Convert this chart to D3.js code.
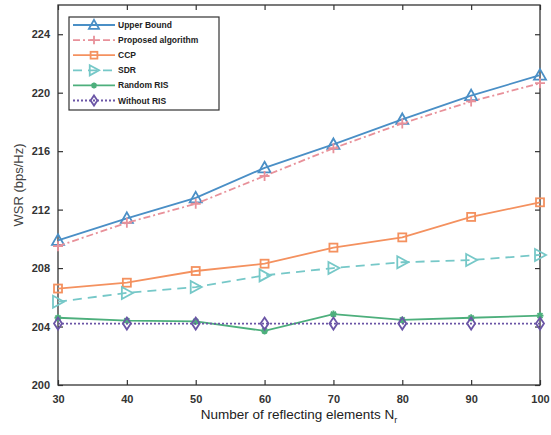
<!DOCTYPE html>
<html>
<head>
<meta charset="utf-8">
<script src="https://cdn.jsdelivr.net/npm/d3@7"></script>
<style>
  body { margin: 0; background: #fff; }
  text { font-family: "Liberation Sans", Arial, sans-serif; }
</style>
</head>
<body>
<div id="chart"></div>
<script>
// data
const elements = [30, 40, 50, 60, 70, 80, 90, 100];
const upperBound = [209.9, 211.4, 212.8, 214.86, 216.46, 218.17, 219.8, 221.2];
const proposed = [209.5, 211.1, 212.4, 214.3, 216.2, 217.9, 219.4, 220.65];
const ccp = [206.6, 207.0, 207.8, 208.3, 209.4, 210.1, 211.5, 212.5];
const sdr = [205.7, 206.3, 206.7, 207.5, 208.0, 208.4, 208.55, 208.9];
const randomRis = [204.6, 204.4, 204.35, 203.7, 204.85, 204.45, 204.6, 204.75];
const withoutRis = [204.2, 204.2, 204.2, 204.2, 204.2, 204.2, 204.2, 204.2];
const yTicks = [200, 204, 208, 212, 216, 220, 224];
const xTicks = [30, 40, 50, 60, 70, 80, 90, 100];

const series = [
  { name: "Upper Bound", values: upperBound, color: "#4a8fc6", dash: null, marker: "triangle" },
  { name: "Proposed algorithm", values: proposed, color: "#e8919a", dash: "7,3,2,3", marker: "plus" },
  { name: "CCP", values: ccp, color: "#f4915f", dash: null, marker: "square" },
  { name: "SDR", values: sdr, color: "#76c8c8", dash: "9,6", marker: "right" },
  { name: "Random RIS", values: randomRis, color: "#4daf7c", dash: null, marker: "star" },
  { name: "Without RIS", values: withoutRis, color: "#6b55a6", dash: "2,2", marker: "diamond" },
];

const margin = { top: 5, right: 11, bottom: 50, left: 58 };
const width = 551 - margin.left - margin.right;
const height = 435 - margin.top - margin.bottom;

const svg = d3.select("#chart").append("svg")
  .attr("width", 551).attr("height", 435)
  .append("g")
  .attr("transform", "translate(" + margin.left + "," + margin.top + ")");

const x = d3.scaleLinear().domain([30, 100]).range([0, width]);
const y = d3.scaleLinear().domain([200, 226]).range([height, 0]);

// axes, ticks pointing inward on all four sides
const tickCol = "#333";
svg.append("g").attr("transform", `translate(0,${height})`)
  .call(d3.axisBottom(x).tickValues(xTicks).tickSizeInner(-5).tickSizeOuter(0).tickPadding(10));
svg.append("g")
  .call(d3.axisLeft(y).tickValues(yTicks).tickSizeInner(-5).tickSizeOuter(0).tickPadding(8));
svg.append("g")
  .call(d3.axisTop(x).tickValues(xTicks).tickSizeInner(-5).tickSizeOuter(0).tickFormat(""));
svg.append("g").attr("transform", `translate(${width},0)`)
  .call(d3.axisRight(y).tickValues(yTicks).tickSizeInner(-5).tickSizeOuter(0).tickFormat(""));
svg.selectAll(".domain").remove();
svg.selectAll(".tick line").attr("stroke", tickCol).attr("stroke-width", 1.2);
svg.selectAll(".tick text")
  .attr("fill", "#333").style("font-size", "11px").style("font-weight", "bold")
  .style("font-family", "'Liberation Sans Narrow', 'Liberation Sans', sans-serif");

svg.append("rect").attr("width", width).attr("height", height)
  .attr("fill", "none").attr("stroke", "#333").attr("stroke-width", 1.3);

function drawMarker(g, type, color, k) {
  k = k || 1;
  const sw = 1.8;
  if (type === "triangle") {
    g.append("path").attr("d", `M0,${-6 * k}L${6 * k},${4.5 * k}L${-6 * k},${4.5 * k}Z`)
      .attr("fill", "none").attr("stroke", color).attr("stroke-width", sw);
  } else if (type === "plus") {
    g.append("path").attr("d", `M${-5 * k},0H${5 * k}M0,${-5 * k}V${5 * k}`)
      .attr("stroke", color).attr("stroke-width", sw);
  } else if (type === "square") {
    g.append("rect").attr("x", -4 * k).attr("y", -4 * k).attr("width", 8 * k).attr("height", 8 * k)
      .attr("fill", "none").attr("stroke", color).attr("stroke-width", sw);
  } else if (type === "right") {
    g.append("path").attr("d", `M${-5 * k},${-6 * k}L${6 * k},0L${-5 * k},${6 * k}Z`)
      .attr("fill", "none").attr("stroke", color).attr("stroke-width", sw);
  } else if (type === "star") {
    const r = 3.5 * k, d = 2.5 * k;
    g.append("path").attr("d", `M${-r},0H${r}M0,${-r}V${r}M${-d},${-d}L${d},${d}M${-d},${d}L${d},${-d}`)
      .attr("stroke", color).attr("stroke-width", sw);
  } else if (type === "diamond") {
    g.append("path").attr("d", `M0,${-6 * k}L${4 * k},0L0,${6 * k}L${-4 * k},0Z`)
      .attr("fill", "none").attr("stroke", color).attr("stroke-width", sw);
  }
}

const line = d3.line().x((d, i) => x(elements[i])).y(d => y(d));

series.forEach(s => {
  svg.append("path").datum(s.values)
    .attr("d", line)
    .attr("fill", "none")
    .attr("stroke", s.color)
    .attr("stroke-width", 1.8)
    .attr("stroke-dasharray", s.dash);
  s.values.forEach((v, i) => {
    const g = svg.append("g").attr("transform", `translate(${x(elements[i])},${y(v)})`);
    drawMarker(g, s.marker, s.color);
  });
});

// legend
const legend = svg.append("g").attr("transform", "translate(11,12)");
legend.append("rect").attr("width", 150).attr("height", 93)
  .attr("fill", "#fff").attr("stroke", "#333").attr("stroke-width", 1.2);
series.forEach((s, i) => {
  const ly = 8 + i * 15.1;
  legend.append("line").attr("x1", 4).attr("x2", 46).attr("y1", ly).attr("y2", ly)
    .attr("stroke", s.color).attr("stroke-width", 1.8).attr("stroke-dasharray", s.dash);
  drawMarker(legend.append("g").attr("transform", `translate(25,${ly})`), s.marker, s.color, 0.85);
  legend.append("text").attr("x", 49).attr("y", ly + 3)
    .attr("fill", "#222").style("font-size", "8.5px").style("font-weight", "bold")
    .text(s.name);
});

// axis titles
svg.append("text")
  .attr("transform", `translate(-35,${height / 2 - 10}) rotate(-90)`)
  .attr("text-anchor", "middle").attr("fill", "#444").style("font-size", "13px")
  .text("WSR (bps/Hz)");

const xl = svg.append("text")
  .attr("x", width / 2).attr("y", height + 34)
  .attr("text-anchor", "middle").attr("fill", "#222")
  .style("font-size", "13.5px");
xl.append("tspan").text("Number of reflecting elements N");
xl.append("tspan").attr("dy", 4).style("font-size", "9px").text("r");
</script>
</body>
</html>
